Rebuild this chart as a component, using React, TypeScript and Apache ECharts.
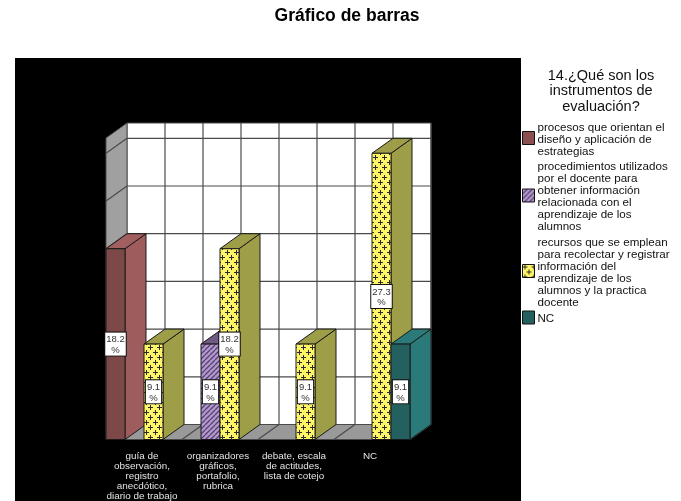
import React, { useEffect, useRef } from "react";
import * as echarts from "echarts";

const categories = [
  "guía de\nobservación,\nregistro\nanecdótico,\ndiario de trabajo",
  "organizadores\ngráficos,\nportafolio,\nrubrica",
  "debate, escala\nde actitudes,\nlista de cotejo",
  "NC",
];
const seriesNames = [
  "procesos que orientan el\ndiseño y aplicación de\nestrategias",
  "procedimientos utilizados\npor el docente para\nobtener información\nrelacionada con el\naprendizaje de los\nalumnos",
  "recursos que se emplean\npara recolectar y registrar\ninformación del\naprendizaje de los\nalumnos y la practica\ndocente",
  "NC",
];
const procesos = [18.2, 0, 0, 0];
const procedimientos = [0, 9.1, 0, 0];
const recursos = [9.1, 18.2, 9.1, 27.3];
const nc = [0, 0, 0, 9.1];
const gridValues = [0, 4.55, 9.1, 13.65, 18.2, 22.75, 27.3];
const axisMax = 28.76;
const FONT = "Liberation Sans, Arial, sans-serif";
const DX = 21;
const DY = 15;
const LINE = "#4a4a4a";

function tile(w: number, h: number, draw: (c: CanvasRenderingContext2D) => void) {
  const cv = document.createElement("canvas");
  cv.width = w;
  cv.height = h;
  draw(cv.getContext("2d") as CanvasRenderingContext2D);
  return { image: cv.toDataURL(), imageWidth: w, imageHeight: h, repeat: "repeat" };
}

function plusPattern() {
  return tile(9, 10, (c) => {
    c.fillStyle = "#fdf565";
    c.fillRect(0, 0, 9, 10);
    c.fillStyle = "#2a2a2a";
    for (const [x, y] of [[2, 2], [6, 7]]) {
      c.fillRect(x - 2, y, 5, 1);
      c.fillRect(x, y - 2, 1, 5);
    }
  });
}

function stripePattern() {
  return tile(5, 5, (c) => {
    c.fillStyle = "#b498d2";
    c.fillRect(0, 0, 5, 5);
    c.strokeStyle = "#55436a";
    c.lineWidth = 1.3;
    for (const o of [-5, 0, 5]) {
      c.beginPath();
      c.moveTo(o, 5);
      c.lineTo(o + 5, 0);
      c.stroke();
    }
  });
}

export default function App() {
  const ref = useRef<HTMLDivElement>(null);
  useEffect(() => {
    document.body.style.margin = "0";
    const chart = echarts.init(ref.current as HTMLDivElement, null, { renderer: "svg" });
    const plus = plusPattern();
    const stripes = stripePattern();
    const faces = [
      { front: "#7c4848", side: "#9e5c5c", top: "#a25f5f", legend: "#8c4f4f" },
      { front: stripes, side: "#8a6fa0", top: "#6f5a84", legend: stripes },
      { front: plus, side: "#9e9e48", top: "#9e9e48", legend: plus },
      { front: "#256060", side: "#2b7a7a", top: "#2b7a7a", legend: "#256060" },
    ];
    const values = [procesos, procedimientos, recursos, nc];

    const wallsSeries = {
      type: "custom",
      name: "walls",
      silent: true,
      data: [0],
      encode: { x: 0 },
      renderItem: (_p: any, api: any) => {
        const band = api.size([1, 0])[0];
        const left = api.coord([0, 0])[0] - band / 2;
        const right = left + band * categories.length;
        const base = api.coord([0, 0])[1];
        const top = api.coord([0, axisMax])[1];
        const line = (x1: number, y1: number, x2: number, y2: number) => ({
          type: "line",
          shape: { x1, y1, x2, y2 },
          style: { stroke: LINE, lineWidth: 1.2 },
        });
        const children: any[] = [
          {
            type: "rect",
            shape: { x: left + DX, y: top - DY, width: right - left, height: base - top },
            style: { fill: "#ffffff", stroke: LINE, lineWidth: 1 },
          },
          {
            type: "polygon",
            shape: { points: [[left, top], [left + DX, top - DY], [left + DX, base - DY], [left, base]] },
            style: { fill: "#a0a0a0", stroke: LINE, lineWidth: 1 },
          },
          {
            type: "polygon",
            shape: { points: [[left, base], [left + DX, base - DY], [right + DX, base - DY], [right, base]] },
            style: { fill: "#999999", stroke: LINE, lineWidth: 1 },
          },
        ];
        gridValues.slice(1).forEach((v) => {
          const y = api.coord([0, v])[1];
          children.push(line(left + DX, y - DY, right + DX, y - DY));
          children.push(line(left, y, left + DX, y - DY));
        });
        for (let i = 1; i <= categories.length * 2; i++) {
          const x = left + (i * band) / 2;
          children.push(line(x + DX, top - DY, x + DX, base - DY));
          children.push(line(x, base, x + DX, base - DY));
        }
        return { type: "group", children };
      },
    };

    const barSeries = values.map((vals, si) => ({
      type: "custom",
      name: seriesNames[si],
      itemStyle: { color: typeof faces[si].legend === "string" ? faces[si].legend : "#ffff66" },
      encode: { x: 0, y: 1 },
      data: vals.map((v, i) => [i, v]),
      z: 3 + si,
      renderItem: (_p: any, api: any) => {
        const v = api.value(1);
        if (!v) return null;
        const band = api.size([1, 0])[0];
        const w = band / 4;
        const c = api.coord([api.value(0), 0]);
        const x = c[0] - band / 2 + si * w;
        const y0 = c[1];
        const y1 = api.coord([api.value(0), v])[1];
        const st = { stroke: "#1a1a1a", lineWidth: 1 };
        return {
          type: "group",
          children: [
            {
              type: "polygon",
              shape: { points: [[x + w, y1], [x + w + DX, y1 - DY], [x + w + DX, y0 - DY], [x + w, y0]] },
              style: { fill: faces[si].side, ...st },
            },
            {
              type: "polygon",
              shape: { points: [[x, y1], [x + DX, y1 - DY], [x + w + DX, y1 - DY], [x + w, y1]] },
              style: { fill: faces[si].top, ...st },
            },
            {
              type: "rect",
              shape: { x, y: y1, width: w, height: y0 - y1 },
              style: { fill: faces[si].front, ...st },
            },
            {
              type: "text",
              z2: 20,
              style: {
                x: x + w / 2,
                y: (y0 + y1) / 2,
                text: v + "\n%",
                align: "center",
                verticalAlign: "middle",
                fill: "#333333",
                font: "9.5px " + FONT,
                lineHeight: 10.5,
                backgroundColor: "#ffffff",
                borderColor: "#111111",
                borderWidth: 1,
                padding: [1, 1, 1, 1],
              },
            },
          ],
        };
      },
    }));

    chart.setOption({
      animation: false,
      backgroundColor: "#ffffff",
      tooltip: { show: false },
      title: [
        {
          text: "Gráfico de barras",
          left: 347,
          top: 6,
          padding: 0,
          textAlign: "center",
          textStyle: { fontFamily: FONT, fontSize: 17.5, fontWeight: "bold", color: "#000" },
        },
        {
          text: "14.¿Qué son los\ninstrumentos de\nevaluación?",
          left: 601,
          top: 67,
          padding: 0,
          textAlign: "center",
          textStyle: { fontFamily: FONT, fontSize: 14.5, fontWeight: "normal", color: "#111", lineHeight: 15.5 },
        },
      ],
      graphic: [
        {
          type: "rect",
          z: -10,
          silent: true,
          shape: { x: 15, y: 58, width: 506, height: 443 },
          style: { fill: "#000000" },
        },
      ],
      legend: {
        orient: "vertical",
        left: 522,
        top: 120,
        itemWidth: 12,
        itemHeight: 13,
        itemGap: 3.5,
        padding: 0,
        icon: "rect",
        selectedMode: false,
        textStyle: { fontFamily: FONT, fontSize: 11.6, lineHeight: 12, color: "#111", padding: [0, 0, 0, -2] },
        data: seriesNames.map((name, i) => ({
          name,
          itemStyle: { color: faces[i].legend, borderColor: "#111", borderWidth: 1 },
        })),
      },
      grid: { left: 106, top: 138, width: 304, height: 301.5 },
      xAxis: {
        type: "category",
        data: categories,
        axisLine: { show: false },
        axisTick: { show: false },
        axisLabel: {
          interval: 0,
          margin: 11,
          fontFamily: FONT,
          fontSize: 9.9,
          lineHeight: 10,
          color: "#e4e4e4",
          padding: [0, 4, 0, 0],
        },
      },
      yAxis: {
        type: "value",
        min: 0,
        max: axisMax,
        interval: 4.55,
        axisLine: { show: false },
        axisTick: { show: false },
        axisLabel: { show: false },
        splitLine: { show: false },
      },
      series: [wallsSeries, ...barSeries],
    });
    return () => chart.dispose();
  }, []);
  return (
    <div
      ref={ref}
      style={{ position: "absolute", left: 0, top: 0, width: 681, height: 501, filter: "blur(0.35px)" }}
    />
  );
}
